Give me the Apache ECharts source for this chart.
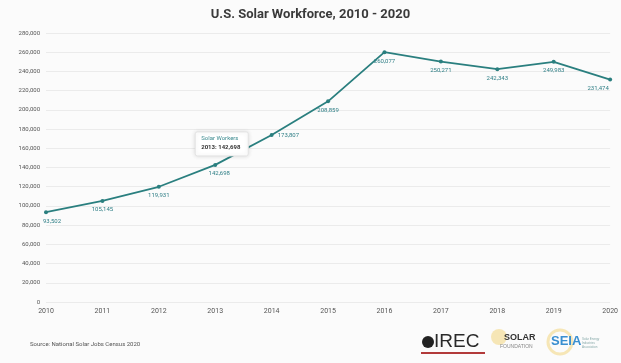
<!DOCTYPE html>
<html>
<head>
<meta charset="utf-8">
<script src="https://cdn.jsdelivr.net/npm/echarts@6/dist/echarts.min.js"></script>
<style>
  html, body { margin: 0; padding: 0; background: #fbfbfb; }
  #chart { width: 621px; height: 363px; }
</style>
</head>
<body>
<div id="chart"></div>
<script>
// U.S. solar jobs by year (National Solar Jobs Census)
const years = ['2010', '2011', '2012', '2013', '2014', '2015', '2016', '2017', '2018', '2019', '2020'];
const workers = [93502, 105145, 119931, 142698, 173807, 208859, 260077, 250271, 242343, 249983, 231474];
const seriesName = 'Solar Workers';
const highlightIndex = 3;

const chart = echarts.init(document.getElementById('chart'));
const teal = '#2a7f7f';
const fmt = v => v.toLocaleString('en-US');

chart.setOption({
  backgroundColor: '#fbfbfb',
  animation: false,
  title: {
    text: 'U.S. Solar Workforce, 2010 - 2020',
    left: 'center',
    top: 3,
    textStyle: { fontFamily: 'Roboto', fontSize: 13, fontWeight: 'bold', color: '#3a3a3a' }
  },
  grid: { left: 46, right: 9, top: 33, bottom: 61 },
  xAxis: {
    type: 'category',
    data: years,
    boundaryGap: false,
    axisLine: { show: false },
    axisTick: { show: false },
    axisLabel: { fontFamily: 'Roboto', fontSize: 7, color: '#555', margin: 6 }
  },
  yAxis: {
    type: 'value',
    min: 0,
    max: 280000,
    interval: 20000,
    axisLine: { show: false },
    axisTick: { show: false },
    splitLine: { lineStyle: { color: '#ebebeb', width: 1 } },
    axisLabel: { fontFamily: 'Roboto', fontSize: 6, color: '#555', margin: 6, formatter: v => fmt(v) }
  },
  series: [{
    name: seriesName,
    type: 'line',
    data: workers.map((v, i) => {
      const item = { value: v };
      if (i === 0) item.label = { position: 'bottom', offset: [6, 0] };
      if (i === 3) item.label = { position: 'bottom', offset: [4, 0] };
      if (i === 4) item.label = { position: 'right', offset: [0, 0] };
      if (i === workers.length - 1) item.label = { position: 'bottom', offset: [-12, 0] };
      return item;
    }),
    symbol: 'circle',
    symbolSize: 4,
    lineStyle: { color: teal, width: 1.8 },
    itemStyle: { color: teal },
    label: {
      show: true,
      position: 'bottom',
      distance: 4,
      fontFamily: 'Roboto',
      fontSize: 6,
      color: '#2f7f86',
      formatter: p => fmt(p.value)
    }
  }]
});

// Callout box pinned to the highlighted year, placed via the chart's own scales
const pt = chart.convertToPixel({ seriesIndex: 0 }, [highlightIndex, workers[highlightIndex]]);
const bx = pt[0] - 20, by = pt[1] - 33;

chart.setOption({
  graphic: [
    {
      type: 'rect',
      shape: { x: bx, y: by, width: 53, height: 24, r: 2 },
      style: { fill: '#ffffff', stroke: '#e4e4e4', lineWidth: 1, shadowBlur: 4, shadowColor: 'rgba(0,0,0,0.12)' },
      z: 100
    },
    {
      type: 'text', x: bx + 6, y: by + 4, z: 101,
      style: { text: seriesName, font: '6px Roboto', fill: '#3c8a8f' }
    },
    {
      type: 'text', x: bx + 6, y: by + 13, z: 101,
      style: { text: years[highlightIndex] + ': ' + fmt(workers[highlightIndex]), font: 'bold 6px Roboto', fill: '#333' }
    },
    {
      type: 'text', left: 30, top: 341,
      style: { text: 'Source: National Solar Jobs Census 2020', font: '6px Roboto', fill: '#555' }
    },
    // IREC mark
    { type: 'circle', shape: { cx: 428, cy: 342, r: 6 }, style: { fill: '#222' } },
    {
      type: 'text', x: 434, y: 332,
      style: { text: 'IREC', font: '19px "Liberation Sans"', fill: '#2a2a2a' }
    },
    { type: 'rect', shape: { x: 421, y: 352, width: 64, height: 2 }, style: { fill: '#b23a3a' } },
    // Solar Foundation mark
    { type: 'circle', shape: { cx: 499, cy: 337, r: 8 }, style: { fill: 'rgba(240,200,80,0.4)' } },
    {
      type: 'text', x: 504, y: 333,
      style: { text: 'SOLAR', font: 'bold 9px "Liberation Sans"', fill: '#333' }
    },
    {
      type: 'text', x: 500, y: 344,
      style: { text: 'FOUNDATION', font: '5px "Liberation Sans"', fill: '#888' }
    },
    // SEIA mark
    { type: 'circle', shape: { cx: 560, cy: 342, r: 12 }, style: { fill: 'none', stroke: 'rgba(240,200,80,0.4)', lineWidth: 3 } },
    {
      type: 'text', x: 551, y: 335,
      style: { text: 'SEIA', font: 'bold 13px "Liberation Sans"', fill: '#3a8fd0' }
    },
    {
      type: 'text', x: 582, y: 337,
      style: { text: 'Solar Energy\nIndustries\nAssociation', font: '3px "Liberation Sans"', fill: '#8aa', lineHeight: 4 }
    }
  ]
});
</script>
</body>
</html>
